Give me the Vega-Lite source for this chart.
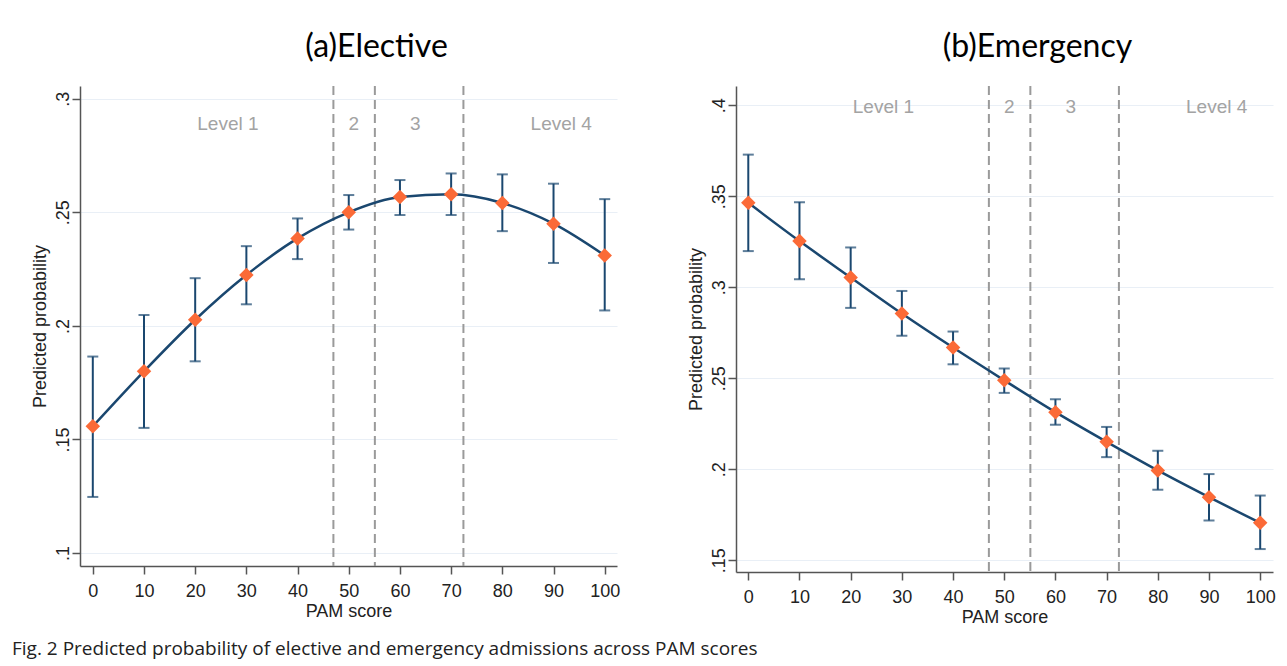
{
  "$schema": "https://vega.github.io/schema/vega-lite/v6.json",
  "padding": {"left": 12, "top": 31, "right": 4, "bottom": 6},
  "background": "white",
  "title": {
    "text": "Fig. 2 Predicted probability of elective and emergency admissions across PAM scores",
    "orient": "bottom",
    "anchor": "start",
    "font": "Open Sans",
    "fontSize": 19,
    "fontWeight": "normal",
    "color": "#222",
    "offset": 14,
    "dx": -19
  },
  "spacing": 67,
  "datasets": {
    "elective": [
      {"pam": 0, "p": 0.1558, "lo": 0.1247, "hi": 0.1865},
      {"pam": 10, "p": 0.180, "lo": 0.1551, "hi": 0.2048},
      {"pam": 20, "p": 0.2027, "lo": 0.1844, "hi": 0.221},
      {"pam": 30, "p": 0.2224, "lo": 0.2095, "hi": 0.2351},
      {"pam": 40, "p": 0.2385, "lo": 0.2294, "hi": 0.2473},
      {"pam": 50, "p": 0.250, "lo": 0.2424, "hi": 0.2576},
      {"pam": 60, "p": 0.2567, "lo": 0.2488, "hi": 0.2642},
      {"pam": 70, "p": 0.2579, "lo": 0.2488, "hi": 0.2671},
      {"pam": 80, "p": 0.2541, "lo": 0.2417, "hi": 0.2667},
      {"pam": 90, "p": 0.245, "lo": 0.2277, "hi": 0.2626},
      {"pam": 100, "p": 0.231, "lo": 0.2068, "hi": 0.2558}
    ],
    "emergency": [
      {"pam": 0, "p": 0.3464, "lo": 0.3199, "hi": 0.3729},
      {"pam": 10, "p": 0.3254, "lo": 0.3044, "hi": 0.3468},
      {"pam": 20, "p": 0.3054, "lo": 0.2887, "hi": 0.3219},
      {"pam": 30, "p": 0.2856, "lo": 0.2734, "hi": 0.298},
      {"pam": 40, "p": 0.2669, "lo": 0.2577, "hi": 0.2757},
      {"pam": 50, "p": 0.2489, "lo": 0.242, "hi": 0.2554},
      {"pam": 60, "p": 0.2314, "lo": 0.2245, "hi": 0.2385},
      {"pam": 70, "p": 0.2151, "lo": 0.2067, "hi": 0.2233},
      {"pam": 80, "p": 0.1994, "lo": 0.1888, "hi": 0.2102},
      {"pam": 90, "p": 0.1847, "lo": 0.1719, "hi": 0.1974},
      {"pam": 100, "p": 0.1706, "lo": 0.1562, "hi": 0.1856}
    ],
    "cutoffs": [{"cut": 47}, {"cut": 55.1}, {"cut": 72.4}],
    "levelsA": [
      {"label": "Level 1", "pam": 26.4, "p": 0.289},
      {"label": "2", "pam": 51, "p": 0.289},
      {"label": "3", "pam": 63, "p": 0.289},
      {"label": "Level 4", "pam": 91.5, "p": 0.289}
    ],
    "levelsB": [
      {"label": "Level 1", "pam": 26.4, "p": 0.399},
      {"label": "2", "pam": 51, "p": 0.399},
      {"label": "3", "pam": 63, "p": 0.399},
      {"label": "Level 4", "pam": 91.5, "p": 0.399}
    ]
  },
  "hconcat": [
    {
      "width": 537,
      "height": 480,
      "title": {"text": "(a)Elective", "font": "Lato", "fontSize": 32, "fontWeight": "normal", "color": "#000", "dx": 28, "offset": 21},
      "encoding": {
        "x": {"field": "pam", "type": "quantitative", "scale": {"domain": [-2.5, 102.4], "nice": false, "zero": false},
              "axis": {"values": [0, 10, 20, 30, 40, 50, 60, 70, 80, 90, 100], "title": "PAM score", "grid": false, "labelPadding": 8, "titlePadding": 2}},
        "y": {"field": "p", "type": "quantitative", "scale": {"domain": [0.0943, 0.3056], "nice": false, "zero": false},
              "axis": {"values": [0.1, 0.15, 0.2, 0.25, 0.3], "title": "Predicted probability", "grid": true,
                       "labelExpr": "substring(format(datum.value, '.2~f'), 1)", "labelAngle": -90, "labelAlign": "center", "labelBaseline": "alphabetic", "labelPadding": 4, "titlePadding": 5}}
      },
      "layer": [
        {"data": {"name": "cutoffs"}, "mark": {"type": "rule", "color": "#9a9a9a", "strokeWidth": 2, "strokeDash": [9, 5]},
         "encoding": {"x": {"field": "cut", "type": "quantitative"}, "y": null}},
        {"data": {"name": "levelsA"}, "mark": {"type": "text", "color": "#a3a3a3", "fontSize": 19, "align": "center", "baseline": "middle"},
         "encoding": {"text": {"field": "label"}}},
        {"data": {"name": "elective"}, "mark": {"type": "errorbar", "color": "#1a476f", "thickness": 2, "ticks": {"size": 11, "thickness": 2, "color": "#1a476f"}},
         "encoding": {"y": {"field": "lo", "type": "quantitative"}, "y2": {"field": "hi"}}},
        {"data": {"name": "elective"}, "mark": {"type": "line", "color": "#1a476f", "strokeWidth": 2.5, "interpolate": "monotone"}},
        {"data": {"name": "elective"}, "mark": {"type": "point", "shape": "diamond", "filled": true, "size": 210, "color": "#fb6a37", "opacity": 1}}
      ]
    },
    {
      "width": 537,
      "height": 486,
      "title": {"text": "(b)Emergency", "font": "Lato", "fontSize": 32, "fontWeight": "normal", "color": "#000", "dx": 33, "offset": 21},
      "encoding": {
        "x": {"field": "pam", "type": "quantitative", "scale": {"domain": [-2.4, 102.5], "nice": false, "zero": false},
              "axis": {"values": [0, 10, 20, 30, 40, 50, 60, 70, 80, 90, 100], "title": "PAM score", "grid": false, "labelPadding": 8, "titlePadding": 2}},
        "y": {"field": "p", "type": "quantitative", "scale": {"domain": [0.1436, 0.4106], "nice": false, "zero": false},
              "axis": {"values": [0.15, 0.2, 0.25, 0.3, 0.35, 0.4], "title": "Predicted probability", "grid": true,
                       "labelExpr": "substring(format(datum.value, '.2~f'), 1)", "labelAngle": -90, "labelAlign": "center", "labelBaseline": "alphabetic", "labelPadding": 4, "titlePadding": 5}}
      },
      "layer": [
        {"data": {"name": "cutoffs"}, "mark": {"type": "rule", "color": "#9a9a9a", "strokeWidth": 2, "strokeDash": [9, 5]},
         "encoding": {"x": {"field": "cut", "type": "quantitative"}, "y": null}},
        {"data": {"name": "levelsB"}, "mark": {"type": "text", "color": "#a3a3a3", "fontSize": 19, "align": "center", "baseline": "middle"},
         "encoding": {"text": {"field": "label"}}},
        {"data": {"name": "emergency"}, "mark": {"type": "errorbar", "color": "#1a476f", "thickness": 2, "ticks": {"size": 11, "thickness": 2, "color": "#1a476f"}},
         "encoding": {"y": {"field": "lo", "type": "quantitative"}, "y2": {"field": "hi"}}},
        {"data": {"name": "emergency"}, "mark": {"type": "line", "color": "#1a476f", "strokeWidth": 2.5, "interpolate": "monotone"}},
        {"data": {"name": "emergency"}, "mark": {"type": "point", "shape": "diamond", "filled": true, "size": 210, "color": "#fb6a37", "opacity": 1}}
      ]
    }
  ],
  "config": {
    "font": "Liberation Sans",
    "view": {"stroke": null},
    "axis": {
      "labelFontSize": 18, "titleFontSize": 18, "titleFontWeight": "normal",
      "labelColor": "#222", "titleColor": "#222",
      "domainColor": "#555", "tickColor": "#555", "domainWidth": 1.5, "tickWidth": 1.5, "tickSize": 8,
      "gridColor": "#e9eff6", "gridWidth": 1.2
    }
  }
}
